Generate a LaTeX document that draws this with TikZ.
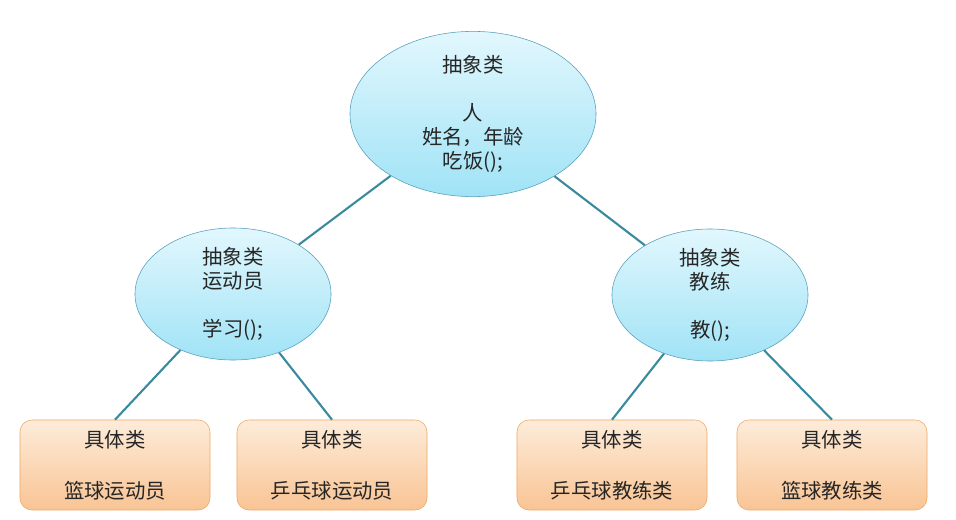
\documentclass[tikz,border=0pt]{standalone}
\usepackage{fontspec}
\setmainfont{Noto Sans CJK SC}
\usepackage{tikz}
\usetikzlibrary{
  shapes.geometric,%
  shadows,%
  positioning
}
\definecolor{linkblue}{RGB}{58,138,158}
\definecolor{ellborder}{RGB}{88,160,188}
\definecolor{elltop}{RGB}{226,247,253}
\definecolor{ellbottom}{RGB}{160,227,246}
\definecolor{boxborder}{RGB}{240,170,105}
\definecolor{boxtop}{RGB}{253,236,218}
\definecolor{boxbottom}{RGB}{249,196,148}
\tikzset{font=\fontsize{14.5}{17}\selectfont}
\tikzset{
  abstractclass/.style={ellipse, draw=ellborder, thin, top color=elltop,
    bottom color=ellbottom, align=center, inner sep=0pt, text=black!85,
    drop shadow={opacity=0.15, shadow xshift=0.04, shadow yshift=-0.05}},
  concreteclass/.style={rectangle, rounded corners=0.3cm, draw=boxborder, thin,
    top color=boxtop, bottom color=boxbottom, align=center, inner sep=0pt,
    minimum width=4.75cm, minimum height=2.25cm, text=black!85,
    drop shadow={opacity=0.2, shadow xshift=0.04, shadow yshift=-0.06}},
  link/.style={draw=linkblue, line width=1.5pt}
}

\begin{document}
\begin{tikzpicture}[x=0.025cm, y=-0.025cm]
  \useasboundingbox (0,0) rectangle (956,520);
  % abstract classes
  \node[abstractclass, minimum width=6.15cm, minimum height=4cm] (person) at (473,114)
    {抽象类\\[17pt]人\\姓名，年龄\\吃饭();};
  \node[abstractclass, minimum width=4.9cm, minimum height=3.3cm] (athlete) at (233,294)
    {抽象类\\运动员\\[17pt]学习();};
  \node[abstractclass, minimum width=4.9cm, minimum height=3.3cm] (coach) at (710,295)
    {抽象类\\教练\\[17pt]教();};
  % concrete classes
  \node[concreteclass] (bballplayer) at (115,465) {具体类\\[19pt]篮球运动员};
  \node[concreteclass] (ppplayer) at (332,465) {具体类\\[19pt]乒乓球运动员};
  \node[concreteclass] (ppcoach) at (612,465) {具体类\\[19pt]乒乓球教练类};
  \node[concreteclass] (bballcoach) at (832,465) {具体类\\[19pt]篮球教练类};
  % links
  \draw[link] (person) -- (athlete);
  \draw[link] (person) -- (coach);
  \foreach \child in {bballplayer, ppplayer}
    \draw[link] (athlete) -- (\child.north);
  \foreach \child in {ppcoach, bballcoach}
    \draw[link] (coach) -- (\child.north);
\end{tikzpicture}
\end{document}
